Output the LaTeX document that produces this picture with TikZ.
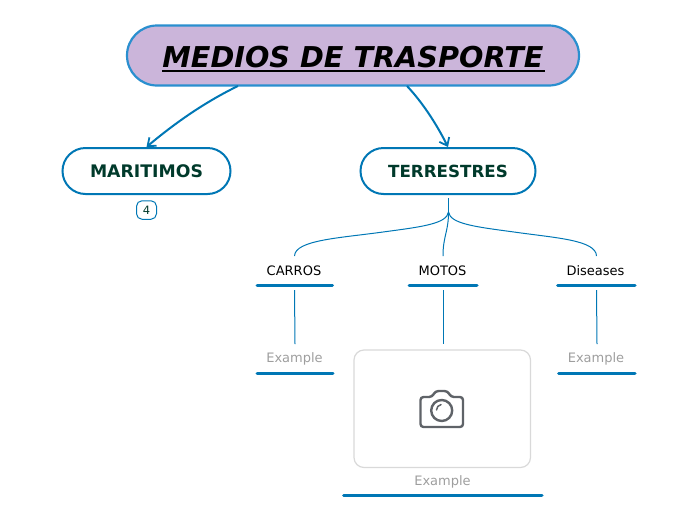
\documentclass[tikz,border=0pt]{standalone}
\usepackage{fontspec}
\setmainfont{DejaVu Sans}
\usetikzlibrary{arrows.meta}
\definecolor{mainblue}{HTML}{0077B5}
\definecolor{rootblue}{HTML}{2A8FCF}
\definecolor{rootfill}{HTML}{CBB5DA}
\definecolor{darkgreen}{HTML}{003A2B}
\definecolor{greytext}{HTML}{9E9E9E}
\definecolor{camgrey}{HTML}{5F6368}
\tikzset{
  rootnode/.style={draw=rootblue,fill=rootfill,line width=2.2pt,rounded corners=30pt,minimum width=452pt,minimum height=60pt,inner sep=0pt},
  branchnode/.style={draw=mainblue,fill=white,line width=2pt,rounded corners=23pt,minimum height=46pt,inner sep=0pt,text=darkgreen},
  leaftext/.style={inner sep=0pt,font=\fontsize{13}{16}\selectfont,text=black},
  exampletext/.style={inner sep=0pt,font=\fontsize{13}{16}\selectfont,text=greytext},
  bar/.style={draw=mainblue,line width=3pt,line cap=round},
  thin link/.style={draw=mainblue,line width=1pt},
  main link/.style={draw=mainblue,line width=2pt,-{Straight Barb[length=7pt,width=11pt,line width=1.8pt]}},
}
\begin{document}
\begin{tikzpicture}[x=1pt,y=-1pt]
\useasboundingbox (0,0) rectangle (696,520);
\node[rootnode] (root) at (353,55.5) {};
\node[inner sep=0pt,font=\fontsize{28.7}{34}\selectfont\bfseries\itshape,text=black] (title) at (353,57) {MEDIOS DE TRASPORTE};
\draw[black,line width=2pt] (162,70.5) coordinate (ula) -- (544.5,70.5) coordinate (ulb);
\node[branchnode,minimum width=168pt,font=\fontsize{17.3}{20}\selectfont\bfseries] (mar) at (146.5,171) {MARITIMOS};
\node[branchnode,minimum width=175pt,font=\fontsize{16.7}{20}\selectfont\bfseries] (ter) at (448,171) {TERRESTRES};
\node[draw=mainblue,fill=white,line width=1pt,rounded corners=5.5pt,minimum width=20pt,minimum height=18.5pt,inner sep=0pt,font=\fontsize{11.5}{14}\selectfont,text=darkgreen] (count) at (146.5,210) {4};
\coordinate (rootL) at (238,86);
\coordinate (rootR) at (407,86);
\draw[main link] (rootL) .. controls (205,102) and (175,123) .. (mar.north);
\draw[main link] (rootR) .. controls (423,103) and (437,125) .. (ter.north);
% captions
\node[leaftext] (carros) at (294,270.5) {CARROS};
\node[leaftext] (motos) at (442.5,270.5) {MOTOS};
\node[leaftext] (dis) at (595.5,270.5) {Diseases};
\node[exampletext] (ex1) at (294.5,358.5) {Example};
\node[exampletext] (ex3) at (596,359) {Example};
\node[exampletext] (ex2) at (442.5,481.5) {Example};
\draw[bar] (257,285) coordinate (b1a) -- (332.5,285) coordinate (b1b);
\draw[bar] (409,285) coordinate (b2a) -- (477,285) coordinate (b2b);
\draw[bar] (557.5,285) coordinate (b3a) -- (635,285) coordinate (b3b);
\draw[bar] (257,373) coordinate (b4a) -- (333,373) coordinate (b4b);
\draw[bar] (558.5,373) coordinate (b5a) -- (635,373) coordinate (b5b);
\draw[bar] (343.5,495) coordinate (b6a) -- (542,495) coordinate (b6b);
% tree
\coordinate (ts) at (448.5,198);
\coordinate (tj) at (448.5,212);
\coordinate (c1) at (294.5,256);
\coordinate (c2) at (443,256);
\coordinate (c3) at (596.5,256);
\coordinate (m1) at (383,232);
\coordinate (m3) at (514,232);
\draw[thin link] (ts) -- (tj);
\draw[thin link] (tj) .. controls (447,224) and (420,227) .. (m1) .. controls (340,238) and (295,240) .. (c1);
\draw[thin link] (tj) .. controls (448.5,232) and (443,236) .. (c2);
\draw[thin link] (tj) .. controls (450,224) and (477,227) .. (m3) .. controls (556,238) and (596,240) .. (c3);
% verticals
\coordinate (v1a) at (294.5,290); \coordinate (v1b) at (295,344);
\coordinate (v2a) at (443,290); \coordinate (v2b) at (443,344);
\coordinate (v3a) at (596.5,290); \coordinate (v3b) at (597,344);
\draw[thin link] (v1a) -- (v1b);
\draw[thin link] (v2a) -- (v2b);
\draw[thin link] (v3a) -- (v3b);
% picture frame
\draw[draw=black!15,line width=1.2pt,rounded corners=10pt] (354,350) rectangle (530.5,467.5);
% camera icon
\draw[camgrey,line width=2.4pt,line join=round,rounded corners=3pt]
  (420.5,397) -- (420.5,427) -- (463,427) -- (463,397) -- (451,397) -- (447.5,391) -- (435.5,391) -- (432,397) -- cycle;
\draw[camgrey,line width=2.4pt] (441.7,410.5) circle (10.5);
\draw[camgrey,line width=1.5pt,line cap=round] (436.5,410) arc (180:260:5.5);
\end{tikzpicture}
\end{document}
